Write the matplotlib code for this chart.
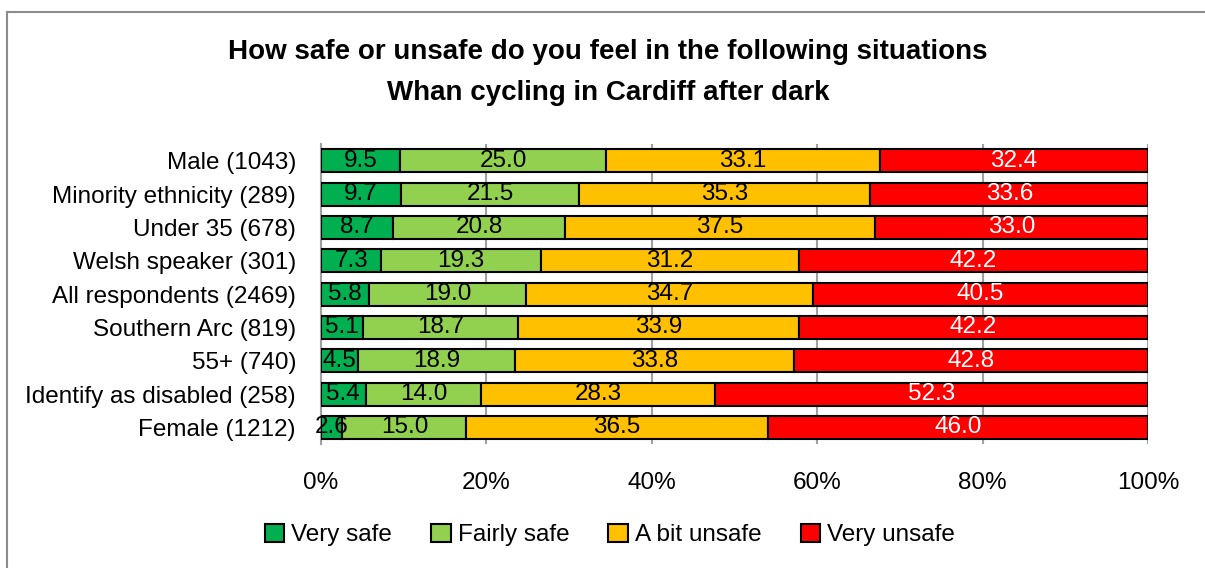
import numpy as np
from matplotlib import pyplot as plt
from matplotlib.lines import Line2D

groups = ['Male (1043)', 'Minority ethnicity (289)', 'Under 35 (678)',
          'Welsh speaker (301)', 'All respondents (2469)', 'Southern Arc (819)',
          '55+ (740)', 'Identify as disabled (258)', 'Female (1212)']
very_safe = [9.5, 9.7, 8.7, 7.3, 5.8, 5.1, 4.5, 5.4, 2.6]
fairly_safe = [25.0, 21.5, 20.8, 19.3, 19.0, 18.7, 18.9, 14.0, 15.0]
bit_unsafe = [33.1, 35.3, 37.5, 31.2, 34.7, 33.9, 33.8, 28.3, 36.5]
very_unsafe = [32.4, 33.6, 33.0, 42.2, 40.5, 42.2, 42.8, 52.3, 46.0]

series = [('Very safe', very_safe, '#00B050', 'black'),
          ('Fairly safe', fairly_safe, '#92D050', 'black'),
          ('A bit unsafe', bit_unsafe, '#FFC000', 'black'),
          ('Very unsafe', very_unsafe, '#FF0000', 'white')]

plt.rcParams['font.family'] = ['Liberation Sans', 'DejaVu Sans']

fig = plt.figure(figsize=(12.05, 5.68), dpi=100)
ax = fig.add_axes([321 / 1205, 124 / 568, 827 / 1205, 300 / 568])

vals = np.array([s[1] for s in series])
totals = vals.sum(axis=0)
y = np.arange(len(groups))
left = np.zeros(len(groups))
for name, v, color, tcolor in series:
    share = np.array(v) / totals * 100
    bars = ax.barh(y, share, left=left, height=0.69, color=color,
                   edgecolor='black', linewidth=1.5, label=name, zorder=3)
    ax.bar_label(bars, labels=[f'{x:.1f}' for x in v], label_type='center',
                 color=tcolor, fontsize=17.5, zorder=4)
    left += share

ax.set_xlim(0, 100)
ax.set_ylim(len(groups) - 0.5, -0.5)
ax.set_yticks(y)
ax.set_yticklabels(groups, fontsize=17.5)
ax.set_xticks(np.arange(0, 101, 20))
ax.set_xticklabels([f'{t}%' for t in range(0, 101, 20)], fontsize=17.5)
ax.tick_params(axis='y', length=0, pad=18)
ax.tick_params(axis='x', length=0, pad=20)
ax.grid(axis='x', color='#A0A0A0', linewidth=1.5, zorder=0)
for side in ['top', 'right', 'bottom']:
    ax.spines[side].set_visible(False)
ax.spines['left'].set_color('#A0A0A0')
ax.spines['left'].set_linewidth(1.5)

fig.text(608 / 1205, 1 - 72 / 568,
         'How safe or unsafe do you feel in the following situations\nWhan cycling in Cardiff after dark',
         ha='center', va='center', fontsize=20, fontweight='bold', linespacing=1.75)

fig.legend(loc='center', bbox_to_anchor=(610 / 1205, 1 - 535 / 568), ncol=4,
           frameon=False, fontsize=17.5, handlelength=0.8, handleheight=0.8,
           handletextpad=0.3, columnspacing=1.6)

# outer frame: only top and left edges fall inside the image
fig.add_artist(Line2D([7.5 / 1205, 7.5 / 1205], [0, 1 - 12 / 568],
                      transform=fig.transFigure, color='#8C8C8C', linewidth=1.5))
fig.add_artist(Line2D([7.5 / 1205, 1], [1 - 12 / 568, 1 - 12 / 568],
                      transform=fig.transFigure, color='#8C8C8C', linewidth=1.5))

plt.savefig('out.png', dpi=100)
